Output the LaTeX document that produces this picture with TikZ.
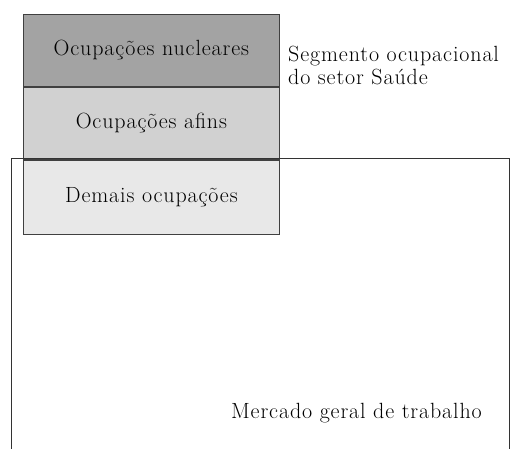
\documentclass[tikz,border=0pt]{standalone}
\usepackage{fontspec}
\setmainfont[LetterSpace=4]{Latin Modern Roman}
\usetikzlibrary{positioning}
\tikzstyle{camada}=[
        draw=black!75,
        line width=0.8pt,
        minimum width=256pt,
        minimum height=72pt,
        inner sep=0pt,
        font=\fontsize{22}{23}\selectfont
]
\tikzstyle{rotulo}=[
        inner sep=0pt,
        align=left,
        font=\fontsize{22}{23}\selectfont
]

\begin{document}
\begin{tikzpicture}[x=1pt,y=-1pt]
                    \useasboundingbox (0,0) rectangle (511,449);

                    % mercado geral (aberto embaixo)
                    \coordinate (mgA) at (11,449);
                    \coordinate (mgB) at (11,158);
                    \coordinate (mgC) at (509,158);
                    \coordinate (mgD) at (509,449);

                    \node[camada, fill=black!36, anchor=north west] (nucleares) at (23,14) {Ocupações nucleares};
                    \node[camada, fill=black!18, below=0pt of nucleares] (afins) {Ocupações afins};
                    \node[camada, fill=black!9, below=0pt of afins, minimum height=74pt] (demais) {Demais ocupações};

                    \draw[black!80, line width=0.9pt] (mgA) -- (mgB) -- (mgC) -- (mgD);

                    \node[rotulo, anchor=base west] (segmento) at (288,85) {Segmento ocupacional\\do setor Saúde};
                    \node[rotulo, anchor=base east] (mercado) at (482,418) {Mercado geral de trabalho};
                \end{tikzpicture}
\end{document}
